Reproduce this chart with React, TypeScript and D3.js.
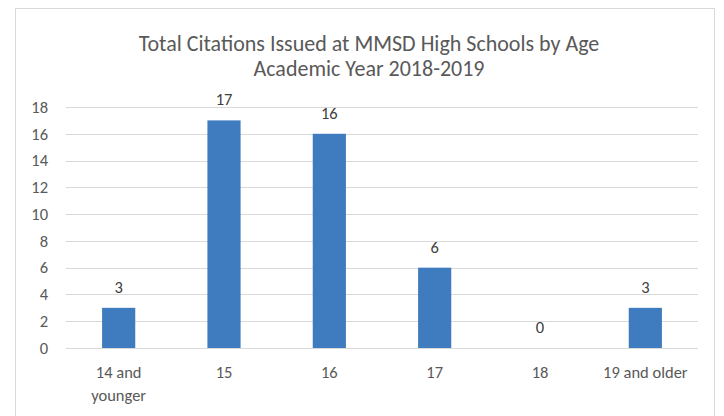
import { useEffect, useRef } from 'react';
import * as d3 from 'd3';

const categories = ['14 and younger', '15', '16', '17', '18', '19 and older'];
const citations = [3, 17, 16, 6, 0, 3];
const yTicks = [0, 2, 4, 6, 8, 10, 12, 14, 16, 18];
const titleLines = ['Total Citations Issued at MMSD High Schools by Age', 'Academic Year 2018-2019'];

export default function App() {
  const svgRef = useRef<SVGSVGElement>(null);

  useEffect(() => {
    if (!svgRef.current) return;
    const width = 724;
    const height = 416;
    const margin = { top: 107, right: 26, bottom: 68, left: 66 };
    const innerWidth = width - margin.left - margin.right;
    const innerHeight = height - margin.top - margin.bottom;
    const font = 'Calibri, Carlito, "Liberation Sans Narrow", "Open Sans", sans-serif';
    const textColor = '#595959';

    const svg = d3.select(svgRef.current);
    svg.selectAll('*').remove();

    // chart frame
    svg.append('rect')
      .attr('x', 15.5).attr('y', 8.5)
      .attr('width', 699).attr('height', 420)
      .attr('fill', '#fff')
      .attr('stroke', '#d9d9d9');

    // title
    svg.append('g').selectAll('text')
      .data(titleLines)
      .join('text')
      .attr('x', 369)
      .attr('y', (_, i) => 51 + i * 25)
      .attr('text-anchor', 'middle')
      .attr('font-family', font)
      .attr('font-size', 22)
      .attr('fill', textColor)
      .text(d => d);

    const g = svg.append('g')
      .attr('transform', `translate(${margin.left},${margin.top})`);

    const x = d3.scaleBand<string>()
      .domain(categories)
      .range([0, innerWidth])
      .paddingInner(0.685)
      .paddingOuter(0.3425);

    const y = d3.scaleLinear()
      .domain([0, 18])
      .range([innerHeight, 0]);

    // gridlines
    g.append('g').selectAll('line')
      .data(yTicks)
      .join('line')
      .attr('x1', 0).attr('x2', innerWidth)
      .attr('y1', d => Math.round(y(d)) + 0.5)
      .attr('y2', d => Math.round(y(d)) + 0.5)
      .attr('stroke', '#d9d9d9')
      .attr('stroke-width', 1);

    // y axis labels
    g.append('g').selectAll('text')
      .data(yTicks)
      .join('text')
      .attr('x', -18)
      .attr('y', d => y(d))
      .attr('dy', '0.35em')
      .attr('text-anchor', 'end')
      .attr('font-family', font)
      .attr('font-size', 16.5)
      .attr('fill', textColor)
      .text(d => d);

    // bars
    g.append('g').selectAll('rect')
      .data(citations)
      .join('rect')
      .attr('x', (_, i) => x(categories[i])!)
      .attr('y', d => y(d))
      .attr('width', x.bandwidth())
      .attr('height', d => innerHeight - y(d))
      .attr('fill', '#3f7cbf');

    // data labels
    g.append('g').selectAll('text')
      .data(citations)
      .join('text')
      .attr('x', (_, i) => x(categories[i])! + x.bandwidth() / 2)
      .attr('y', d => y(d) - 15)
      .attr('text-anchor', 'middle')
      .attr('font-family', font)
      .attr('font-size', 16.5)
      .attr('fill', '#404040')
      .text(d => d);

    // x axis labels
    const xl = g.append('g').selectAll('text')
      .data(categories)
      .join('text')
      .attr('x', d => x(d)! + x.bandwidth() / 2)
      .attr('y', innerHeight + 30)
      .attr('text-anchor', 'middle')
      .attr('font-family', font)
      .attr('font-size', 16.5)
      .attr('fill', textColor);

    xl.each(function (d) {
      const t = d3.select(this);
      const lines = d === '14 and younger' ? ['14 and', 'younger'] : [d];
      lines.forEach((l, i) => {
        t.append('tspan')
          .attr('x', x(d)! + x.bandwidth() / 2)
          .attr('dy', i === 0 ? 0 : 23)
          .text(l);
      });
    });
  }, []);

  return (
    <svg
      ref={svgRef}
      width={724}
      height={416}
      style={{ position: 'absolute', left: 0, top: 0, display: 'block', background: '#fff' }}
    />
  );
}
